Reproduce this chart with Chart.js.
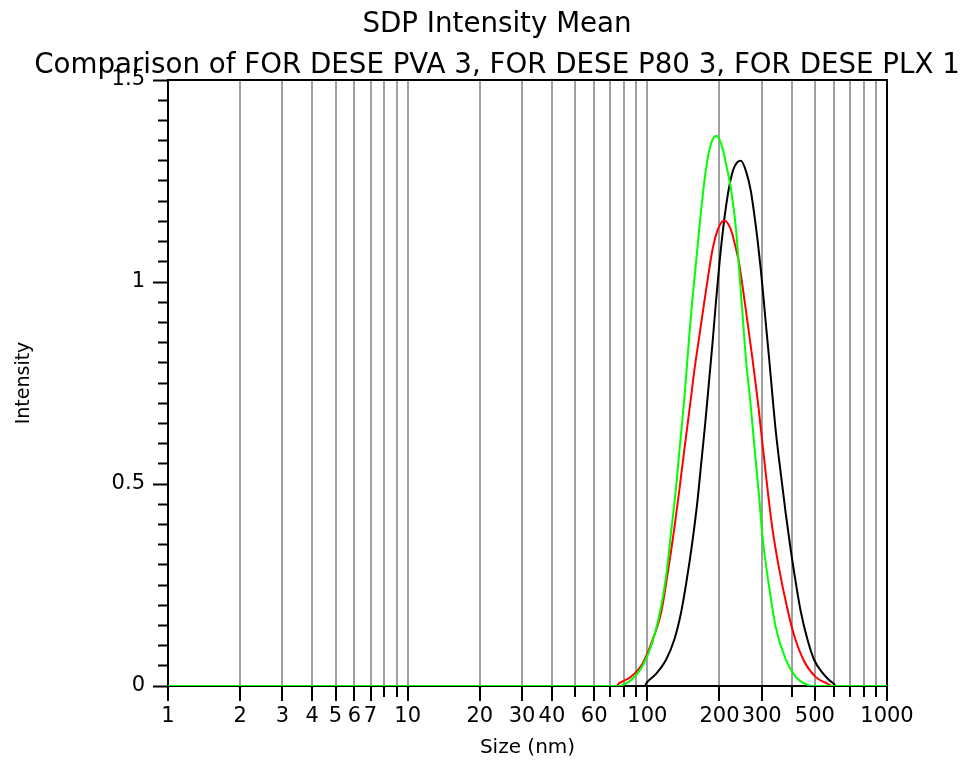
<!DOCTYPE html>
<html>
<head>
<meta charset="utf-8">
<script src="https://cdn.jsdelivr.net/npm/chart.js@4.4.1/dist/chart.umd.min.js"></script>
<style>
  html, body { margin: 0; padding: 0; background: #ffffff; }
  canvas { display: block; }
</style>
</head>
<body>
<canvas id="c" width="967" height="770"></canvas>
<script>
// ---- Data ----
const titleLines = ["SDP Intensity Mean", "Comparison of FOR DESE PVA 3, FOR DESE P80 3, FOR DESE PLX 1"];
const xAxisTitle = "Size (nm)";
const yAxisTitle = "Intensity";

// x tick positions (log grid) and which ones carry labels
const xTickValues = [1,2,3,4,5,6,7,8,9,10,20,30,40,50,60,70,80,90,100,200,300,400,500,600,700,800,900,1000];
const xTickLabels = [1,2,3,4,5,6,7,10,20,30,40,60,100,200,300,500,1000];
const yMajorTicks = [0, 0.5, 1, 1.5];

// Series: FOR DESE PVA 3 (black)
const pvaSize = [1, 97.2, 100, 108.7, 119.7, 129.6, 138.1, 145.8, 154.4, 162, 167.4, 174.4, 181.3, 187.1, 193.3, 199.5, 206, 212.7, 221.1, 229, 237.8, 245.7, 257.8, 270.4, 279, 288.2, 297.6, 305.4, 312.4, 322.3, 332.5, 343.6, 360.6, 378.4, 397, 416.6, 436.5, 465.7, 496.5, 537.3, 573, 601, 611, 1000];
const pvaIntensity = [0, 0, 0.010, 0.030, 0.065, 0.115, 0.180, 0.260, 0.360, 0.460, 0.545, 0.650, 0.760, 0.850, 0.950, 1.040, 1.120, 1.185, 1.245, 1.280, 1.297, 1.300, 1.275, 1.225, 1.170, 1.105, 1.030, 0.960, 0.895, 0.810, 0.720, 0.630, 0.525, 0.425, 0.335, 0.255, 0.185, 0.115, 0.065, 0.033, 0.015, 0.005, 0, 0];

// Series: FOR DESE P80 3 (red)
const p80Size = [1, 74.1, 76.4, 85.5, 95.6, 105.2, 114, 121.6, 129.6, 136, 142.6, 152, 157, 164.7, 172.8, 180, 187, 196.3, 209.4, 223, 230.5, 241.7, 249.6, 257.8, 266, 274.6, 283.6, 291, 302.3, 317, 332.5, 354.8, 384.4, 409.9, 450.6, 504.4, 564, 591.5, 1000];
const p80Intensity = [0, 0, 0.007, 0.023, 0.056, 0.114, 0.180, 0.279, 0.390, 0.485, 0.584, 0.712, 0.780, 0.865, 0.950, 1.020, 1.080, 1.128, 1.152, 1.130, 1.100, 1.045, 0.990, 0.930, 0.870, 0.810, 0.745, 0.690, 0.600, 0.490, 0.390, 0.290, 0.190, 0.125, 0.062, 0.022, 0.006, 0, 0];

// Series: FOR DESE PLX 1 (green)
const plxSize = [1, 76, 80, 86.9, 95.6, 105.2, 114, 119.7, 125.6, 131.7, 136, 142.6, 148.6, 153.5, 160.4, 165.8, 175.7, 185, 194.5, 205, 216, 223, 234, 241.7, 249.6, 257.8, 270.4, 279, 293, 302.3, 322.3, 343.6, 378.4, 416.6, 450, 487, 1000];
const plxIntensity = [0, 0, 0.004, 0.018, 0.050, 0.110, 0.195, 0.270, 0.380, 0.490, 0.580, 0.710, 0.845, 0.945, 1.060, 1.150, 1.280, 1.345, 1.362, 1.335, 1.275, 1.232, 1.135, 1.030, 0.920, 0.810, 0.690, 0.600, 0.465, 0.370, 0.245, 0.145, 0.065, 0.022, 0.007, 0, 0];

function pairs(xs, ys) { return xs.map((x, i) => ({ x: x, y: ys[i] })); }

const FONT = "'DejaVu Sans', Verdana, sans-serif";

const framePlugin = {
  id: 'frame',
  beforeDraw(chart) {
    const ctx = chart.ctx;
    ctx.save();
    ctx.fillStyle = '#ffffff';
    ctx.fillRect(0, 0, chart.width, chart.height);
    ctx.restore();
  },
  beforeDatasetsDraw(chart) {
    const a = chart.chartArea;
    const ctx = chart.ctx;
    ctx.save();
    ctx.strokeStyle = '#000000';
    ctx.lineWidth = 2;
    ctx.strokeRect(a.left, a.top, a.right - a.left, a.bottom - a.top);
    ctx.restore();
  }
};

const isXLabel = v => xTickLabels.some(t => Math.abs(t - v) < 1e-9);
const isYMajor = v => yMajorTicks.some(t => Math.abs(t - v) < 1e-6);

const lineStyle = { borderWidth: 2, pointRadius: 0, cubicInterpolationMode: 'monotone', fill: false };

new Chart(document.getElementById('c'), {
  type: 'line',
  data: {
    datasets: [
      Object.assign({ label: 'FOR DESE PLX 1', data: pairs(plxSize, plxIntensity), borderColor: '#00ff00' }, lineStyle),
      Object.assign({ label: 'FOR DESE P80 3', data: pairs(p80Size, p80Intensity), borderColor: '#ff0000' }, lineStyle),
      Object.assign({ label: 'FOR DESE PVA 3', data: pairs(pvaSize, pvaIntensity), borderColor: '#000000' }, lineStyle)
    ]
  },
  options: {
    responsive: false,
    animation: false,
    devicePixelRatio: 1,
    layout: { padding: { left: 27, right: 0, top: 0, bottom: 0 } },
    plugins: {
      legend: { display: false },
      tooltip: { enabled: false },
      title: {
        display: true,
        text: titleLines,
        color: '#000',
        font: { family: FONT, size: 27.7, weight: 'normal', lineHeight: 41 / 27.7 },
        padding: { top: 4.5, bottom: -6.5 }
      }
    },
    scales: {
      x: {
        type: 'logarithmic',
        min: 1, max: 1000,
        afterBuildTicks: s => { s.ticks = xTickValues.map(v => ({ value: v })); },
        afterFit: s => { s.height = 84; },
        ticks: {
          autoSkip: false, maxRotation: 0, minRotation: 0,
          padding: 3,
          color: '#000',
          font: { family: FONT, size: 21 },
          callback: v => isXLabel(v) ? String(v) : ''
        },
        grid: {
          color: '#a0a0a0', lineWidth: 2,
          tickColor: '#000', tickWidth: 2, tickLength: 15,
          tickBorderDash: ctx => (ctx.tick && isXLabel(ctx.tick.value)) ? [] : [10, 20]
        },
        border: { color: '#000', width: 2 },
        title: { display: true, text: xAxisTitle, color: '#000', font: { family: FONT, size: 20 }, padding: { top: 0, bottom: 10 } }
      },
      y: {
        min: 0, max: 1.5,
        afterBuildTicks: s => {
          const t = [];
          for (let i = 0; i <= 30; i++) t.push({ value: Math.round(i * 5) / 100 });
          s.ticks = t;
        },
        afterFit: s => { s.width = 141; },
        ticks: {
          autoSkip: false,
          padding: 8,
          color: '#000',
          font: { family: FONT, size: 21 },
          callback: v => isYMajor(v) ? String(v) : ''
        },
        grid: {
          drawOnChartArea: false,
          tickColor: '#000', tickWidth: 2, tickLength: 15,
          tickBorderDash: ctx => (ctx.tick && isYMajor(ctx.tick.value)) ? [] : [0, 5, 10, 0]
        },
        border: { color: '#000', width: 2 },
        title: { display: true, text: yAxisTitle, color: '#000', font: { family: FONT, size: 19 }, padding: { top: -14, bottom: 0 } }
      },
      rightSpace: {
        type: 'linear',
        position: 'right',
        display: true,
        afterFit: s => { s.width = 80; },
        grid: { display: false, drawOnChartArea: false, drawTicks: false },
        border: { display: false },
        ticks: { display: false }
      }
    }
  },
  plugins: [framePlugin]
});
</script>
</body>
</html>
